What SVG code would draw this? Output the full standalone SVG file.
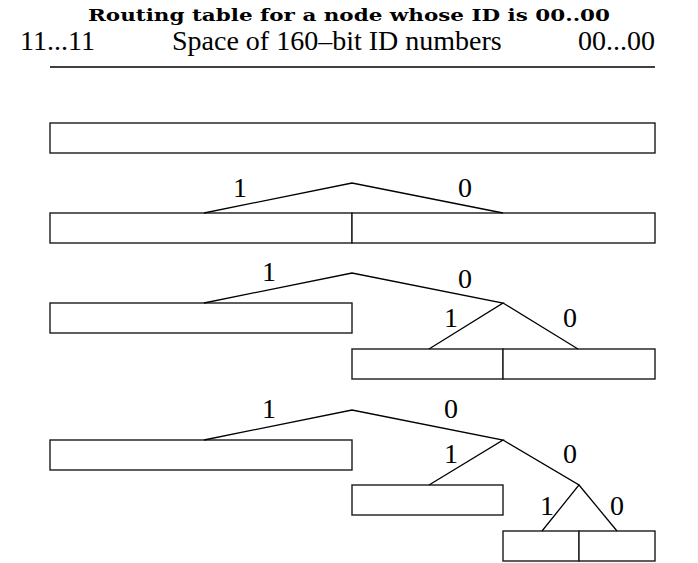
<svg xmlns="http://www.w3.org/2000/svg" width="698" height="563" viewBox="0 0 698 563">
<style>
.bg{fill:#ffffff}
.box{fill:#ffffff;stroke:#1a1a1a;stroke-width:1.4}
.div{stroke:#1a1a1a;stroke-width:1.4}
.edge{fill:none;stroke:#000;stroke-width:1.3}
.lbl{font-family:"Liberation Serif","Times New Roman",serif;font-size:28px;fill:#000;text-anchor:middle}
.hdr{font-family:"Liberation Serif","Times New Roman",serif;font-size:28px;fill:#000}
.title{font-family:"DejaVu Serif","Liberation Serif",serif;font-weight:bold;font-size:17px;fill:#000}
</style>
<rect class="bg" x="0" y="0" width="698" height="563"/>
<g id="header">
<text class="title" x="88" y="21" textLength="522" lengthAdjust="spacingAndGlyphs">Routing table for a node whose ID is 00..00</text>
<text class="hdr" x="20" y="50">11...11</text>
<text class="hdr" x="172" y="50">Space of 160–bit ID numbers</text>
<text class="hdr" x="655" y="50" text-anchor="end">00...00</text>
<line class="edge" x1="50" y1="67" x2="655" y2="67"/>
</g>
<g id="row1">
<g id="r1-all"><rect class="box" x="50" y="123" width="605" height="30"/></g>
</g>
<g id="row2">
<g id="r2-1"><rect class="box" x="50" y="213" width="302" height="30"/></g>
<g id="r2-0"><rect class="box" x="352" y="213" width="303" height="30"/></g>
</g>
<g id="row3">
<g id="r3-1"><rect class="box" x="50" y="303" width="302" height="30"/></g>
<g id="r3-01"><rect class="box" x="352" y="349" width="151" height="30"/></g>
<g id="r3-00"><rect class="box" x="503" y="349" width="152" height="30"/></g>
</g>
<g id="row4">
<g id="r4-1"><rect class="box" x="50" y="440" width="302" height="30"/></g>
<g id="r4-01"><rect class="box" x="352" y="485" width="151" height="30"/></g>
<g id="r4-001"><rect class="box" x="503" y="531" width="76" height="30"/></g>
<g id="r4-000"><rect class="box" x="579" y="531" width="76" height="30"/></g>
</g>
<g id="connectors">
<polyline class="edge" points="204,213 352,183 503,213"/>
<polyline class="edge" points="204,303 352,273 503,303 429,349"/>
<polyline class="edge" points="503,303 578,349"/>
<polyline class="edge" points="204,440 352,410 503,440 429,485"/>
<polyline class="edge" points="503,440 579,485 542,531"/>
<polyline class="edge" points="579,485 617,531"/>
</g>
<g id="labels">
<text class="lbl" x="240" y="197">1</text>
<text class="lbl" x="465" y="197">0</text>
<text class="lbl" x="269" y="281">1</text>
<text class="lbl" x="465" y="288">0</text>
<text class="lbl" x="451" y="327">1</text>
<text class="lbl" x="570" y="327">0</text>
<text class="lbl" x="269" y="418">1</text>
<text class="lbl" x="451" y="418">0</text>
<text class="lbl" x="451" y="463">1</text>
<text class="lbl" x="570" y="463">0</text>
<text class="lbl" x="547" y="515">1</text>
<text class="lbl" x="617" y="515">0</text>
</g>
</svg>
